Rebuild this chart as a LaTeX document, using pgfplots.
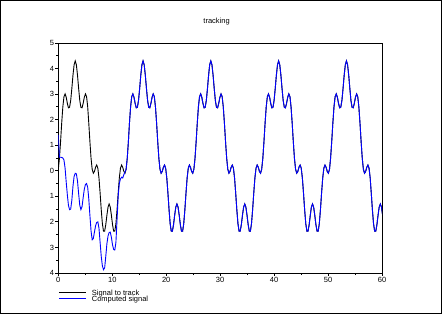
\documentclass[border=0pt]{standalone}
\usepackage{fontspec}
\setmainfont{Liberation Sans}
\usepackage{pgfplots}
\usepackage{pgfplotstable}
\pgfplotsset{compat=1.18}
\definecolor{sciblue}{RGB}{0,0,255}
\pgfplotstableread{
t s c
0.00 0.060 1.40
0.21 0.490 0.53
0.42 1.140 0.53
0.63 1.868 0.52
0.84 2.501 0.50
1.05 2.900 0.42
1.26 3.008 0.10
1.47 2.876 -0.45
1.68 2.638 -0.95
1.88 2.463 -1.35
2.09 2.485 -1.52
2.30 2.755 -1.50
2.51 3.221 -1.15
2.72 3.741 -0.60
2.93 4.147 -0.22
3.14 4.300 -0.10
3.35 4.147 -0.12
3.56 3.741 -0.40
3.77 3.221 -0.90
3.98 2.755 -1.35
4.19 2.485 -1.52
4.40 2.463 -1.40
4.61 2.638 -1.05
4.82 2.876 -0.72
5.03 3.008 -0.54
5.24 2.900 -0.50
5.45 2.501 -0.65
5.65 1.868 -1.10
5.86 1.140 -1.75
6.07 0.490 -2.35
6.28 0.060 -2.70
6.49 -0.095 -2.65
6.70 -0.025 -2.40
6.91 0.137 -2.15
7.12 0.224 -2.02
7.33 0.100 -2.00
7.54 -0.283 -2.25
7.75 -0.871 -2.80
7.96 -1.523 -3.35
8.17 -2.068 -3.72
8.38 -2.365 -3.87
8.59 -2.360 -3.80
8.80 -2.106 -3.35
9.01 -1.736 -2.85
9.22 -1.422 -2.55
9.42 -1.300 -2.42
9.63 -1.422 -2.40
9.84 -1.736 -2.60
10.05 -2.106 -2.90
10.26 -2.360 -3.08
10.47 -2.365 -3.10
10.68 -2.068 -2.80
10.89 -1.523 -1.90
11.10 -0.871 -1.00
11.31 -0.283 -0.50
11.52 0.100 -0.32
11.73 0.224 -0.25
11.94 0.137 -0.28
12.15 -0.025 -0.15
12.36 -0.095 -0.05
12.57 0.060 0.060
12.78 0.490 0.490
12.99 1.140 1.140
13.19 1.868 1.868
13.40 2.501 2.501
13.61 2.900 2.900
13.82 3.008 3.008
14.03 2.876 2.876
14.24 2.638 2.638
14.45 2.463 2.463
14.66 2.485 2.485
14.87 2.755 2.755
15.08 3.221 3.221
15.29 3.741 3.741
15.50 4.147 4.147
15.71 4.300 4.300
15.92 4.147 4.147
16.13 3.741 3.741
16.34 3.221 3.221
16.55 2.755 2.755
16.76 2.485 2.485
16.96 2.463 2.463
17.17 2.638 2.638
17.38 2.876 2.876
17.59 3.008 3.008
17.80 2.900 2.900
18.01 2.501 2.501
18.22 1.868 1.868
18.43 1.140 1.140
18.64 0.490 0.490
18.85 0.060 0.060
19.06 -0.095 -0.095
19.27 -0.025 -0.025
19.48 0.137 0.137
19.69 0.224 0.224
19.90 0.100 0.100
20.11 -0.283 -0.283
20.32 -0.871 -0.871
20.53 -1.523 -1.523
20.73 -2.068 -2.068
20.94 -2.365 -2.365
21.15 -2.360 -2.360
21.36 -2.106 -2.106
21.57 -1.736 -1.736
21.78 -1.422 -1.422
21.99 -1.300 -1.300
22.20 -1.422 -1.422
22.41 -1.736 -1.736
22.62 -2.106 -2.106
22.83 -2.360 -2.360
23.04 -2.365 -2.365
23.25 -2.068 -2.068
23.46 -1.523 -1.523
23.67 -0.871 -0.871
23.88 -0.283 -0.283
24.09 0.100 0.100
24.30 0.224 0.224
24.50 0.137 0.137
24.71 -0.025 -0.025
24.92 -0.095 -0.095
25.13 0.060 0.060
25.34 0.490 0.490
25.55 1.140 1.140
25.76 1.868 1.868
25.97 2.501 2.501
26.18 2.900 2.900
26.39 3.008 3.008
26.60 2.876 2.876
26.81 2.638 2.638
27.02 2.463 2.463
27.23 2.485 2.485
27.44 2.755 2.755
27.65 3.221 3.221
27.86 3.741 3.741
28.06 4.147 4.147
28.27 4.300 4.300
28.48 4.147 4.147
28.69 3.741 3.741
28.90 3.221 3.221
29.11 2.755 2.755
29.32 2.485 2.485
29.53 2.463 2.463
29.74 2.638 2.638
29.95 2.876 2.876
30.16 3.008 3.008
30.37 2.900 2.900
30.58 2.501 2.501
30.79 1.868 1.868
31.00 1.140 1.140
31.21 0.490 0.490
31.42 0.060 0.060
31.63 -0.095 -0.095
31.83 -0.025 -0.025
32.04 0.137 0.137
32.25 0.224 0.224
32.46 0.100 0.100
32.67 -0.283 -0.283
32.88 -0.871 -0.871
33.09 -1.523 -1.523
33.30 -2.068 -2.068
33.51 -2.365 -2.365
33.72 -2.360 -2.360
33.93 -2.106 -2.106
34.14 -1.736 -1.736
34.35 -1.422 -1.422
34.56 -1.300 -1.300
34.77 -1.422 -1.422
34.98 -1.736 -1.736
35.19 -2.106 -2.106
35.40 -2.360 -2.360
35.60 -2.365 -2.365
35.81 -2.068 -2.068
36.02 -1.523 -1.523
36.23 -0.871 -0.871
36.44 -0.283 -0.283
36.65 0.100 0.100
36.86 0.224 0.224
37.07 0.137 0.137
37.28 -0.025 -0.025
37.49 -0.095 -0.095
37.70 0.060 0.060
37.91 0.490 0.490
38.12 1.140 1.140
38.33 1.868 1.868
38.54 2.501 2.501
38.75 2.900 2.900
38.96 3.008 3.008
39.17 2.876 2.876
39.37 2.638 2.638
39.58 2.463 2.463
39.79 2.485 2.485
40.00 2.755 2.755
40.21 3.221 3.221
40.42 3.741 3.741
40.63 4.147 4.147
40.84 4.300 4.300
41.05 4.147 4.147
41.26 3.741 3.741
41.47 3.221 3.221
41.68 2.755 2.755
41.89 2.485 2.485
42.10 2.463 2.463
42.31 2.638 2.638
42.52 2.876 2.876
42.73 3.008 3.008
42.94 2.900 2.900
43.14 2.501 2.501
43.35 1.868 1.868
43.56 1.140 1.140
43.77 0.490 0.490
43.98 0.060 0.060
44.19 -0.095 -0.095
44.40 -0.025 -0.025
44.61 0.137 0.137
44.82 0.224 0.224
45.03 0.100 0.100
45.24 -0.283 -0.283
45.45 -0.871 -0.871
45.66 -1.523 -1.523
45.87 -2.068 -2.068
46.08 -2.365 -2.365
46.29 -2.360 -2.360
46.50 -2.106 -2.106
46.71 -1.736 -1.736
46.91 -1.422 -1.422
47.12 -1.300 -1.300
47.33 -1.422 -1.422
47.54 -1.736 -1.736
47.75 -2.106 -2.106
47.96 -2.360 -2.360
48.17 -2.365 -2.365
48.38 -2.068 -2.068
48.59 -1.523 -1.523
48.80 -0.871 -0.871
49.01 -0.283 -0.283
49.22 0.100 0.100
49.43 0.224 0.224
49.64 0.137 0.137
49.85 -0.025 -0.025
50.06 -0.095 -0.095
50.27 0.060 0.060
50.47 0.490 0.490
50.68 1.140 1.140
50.89 1.868 1.868
51.10 2.501 2.501
51.31 2.900 2.900
51.52 3.008 3.008
51.73 2.876 2.876
51.94 2.638 2.638
52.15 2.463 2.463
52.36 2.485 2.485
52.57 2.755 2.755
52.78 3.221 3.221
52.99 3.741 3.741
53.20 4.147 4.147
53.41 4.300 4.300
53.62 4.147 4.147
53.83 3.741 3.741
54.04 3.221 3.221
54.24 2.755 2.755
54.45 2.485 2.485
54.66 2.463 2.463
54.87 2.638 2.638
55.08 2.876 2.876
55.29 3.008 3.008
55.50 2.900 2.900
55.71 2.501 2.501
55.92 1.868 1.868
56.13 1.140 1.140
56.34 0.490 0.490
56.55 0.060 0.060
56.76 -0.095 -0.095
56.97 -0.025 -0.025
57.18 0.137 0.137
57.39 0.224 0.224
57.60 0.100 0.100
57.81 -0.283 -0.283
58.01 -0.871 -0.871
58.22 -1.523 -1.523
58.43 -2.068 -2.068
58.64 -2.365 -2.365
58.85 -2.360 -2.360
59.06 -2.106 -2.106
59.27 -1.736 -1.736
59.48 -1.422 -1.422
59.69 -1.300 -1.300
59.90 -1.422 -1.422
60.11 -1.736 -1.736
}\tracking
\begin{document}
\begin{tikzpicture}
\useasboundingbox (0,0) rectangle (442bp,315bp);
\draw[line width=1bp] (0.5bp,1.5bp) rectangle (441bp,314.5bp);
\begin{axis}[
  at={(58.3bp,42bp)}, anchor=south west,
  scale only axis, width=323.7bp, height=230bp,
  xmin=0, xmax=60, ymin=-4, ymax=5,
  xtick={0,10,...,60}, ytick={-4,-3,...,5},
  yticklabels={4,3,2,1,0,1,2,3,4,5},
  minor x tick num=1, minor y tick num=1,
  tick pos=left, tick align=outside,
  major tick length=3bp, minor tick length=2bp,
  tick style={black, line width=0.8bp},
  axis line style={line width=1bp},
  /pgf/number format/assume math mode=true,
  tick label style={font=\fontsize{7.5bp}{7.5bp}\selectfont, inner sep=1bp},
  title={tracking},
  title style={font=\fontsize{7.5bp}{7.5bp}\selectfont, at={(axis description cs:0.489,1)}, anchor=base, yshift=13.7bp, inner sep=0pt},
  legend style={at={(axis description cs:0,-0.078)}, anchor=north west, draw=none, fill=none, inner sep=0pt, row sep=0pt,
    font=\fontsize{7.5bp}{7.5bp}\selectfont,
    nodes={inner sep=0pt, text height=4.5bp, text depth=1.5bp},
    /tikz/every odd column/.append style={column sep=5.5bp}},
  legend cell align=left,
  legend image code/.code={\draw[#1] (0bp,1.5bp) -- (27bp,1.5bp);},
]
\addplot[black, line width=0.9bp] table[x=t, y=s] {\tracking};
\addlegendentry{Signal to track}
\addplot[sciblue, line width=0.9bp] table[x=t, y=c] {\tracking};
\addlegendentry{Computed signal}
\end{axis}
\end{tikzpicture}
\end{document}
